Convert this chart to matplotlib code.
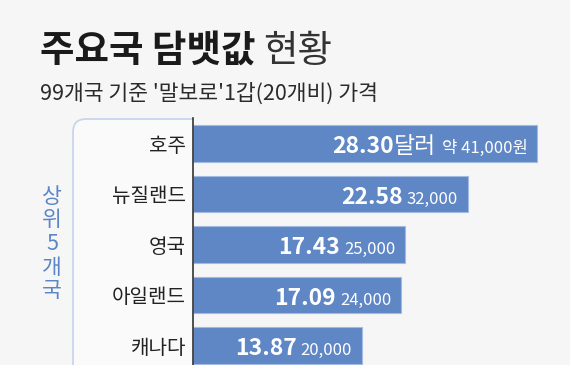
import matplotlib
matplotlib.use("Agg")
import matplotlib.pyplot as plt
from matplotlib.patches import FancyBboxPatch, Rectangle

plt.rcParams['font.family'] = ['Noto Sans CJK KR', 'DejaVu Sans']

# data
countries = ["호주", "뉴질랜드", "영국", "아일랜드", "캐나다"]
usd = [28.30, 22.58, 17.43, 17.09, 13.87]
krw = [41000, 32000, 25000, 24000, 20000]

title_bold = "주요국 담뱃값"
title_light = "현황"
subtitle = "99개국 기준 '말보로'1갑(20개비) 가격"
side_label = "상위5개국"

bg = "#f6f6f6"
bar_color = "#5f87c5"
blue_text = "#5a86c8"

W, H = 580, 365
fig = plt.figure(figsize=(W / 100, H / 100), dpi=100, facecolor=bg)

# white strip on the right edge
fig.patches.append(Rectangle((570 / W, 0), 10 / W, 1, transform=fig.transFigure,
                             facecolor="white", edgecolor="none", zorder=0))

# left overlay in pixel units for the rounded box
ov = fig.add_axes([0, 0, 193 / W, 1])
ov.set_xlim(0, 193)
ov.set_ylim(H, 0)
ov.axis("off")
ov.patch.set_alpha(0)
box = FancyBboxPatch((73, 119), 160, 320, boxstyle="round,pad=0,rounding_size=13",
                     facecolor="#fafafa", edgecolor="#c6d6ee", linewidth=1.3)
ov.add_patch(box)
ov.text(52, 244, "\n".join(side_label), ha="center", va="center", fontsize=15.5,
        color=blue_text, linespacing=1.1)

# main bar axes
ax = fig.add_axes([193 / W, 0, 377 / W, (H - 118) / H])
ax.patch.set_alpha(0)
y = list(range(len(countries)))
ax.barh(y, usd, height=0.73, color=bar_color, edgecolor="#a3bbe0", linewidth=0.8)
ax.set_xlim(0, 377 / 12.17)
ax.set_ylim(4.386, -0.505)
for s in ["top", "right", "bottom"]:
    ax.spines[s].set_visible(False)
ax.spines["left"].set_color("#333333")
ax.spines["left"].set_linewidth(1.2)
ax.set_xticks([])
ax.set_yticks(y)
ax.set_yticklabels(countries, fontsize=14.5, color="#222222")
ax.tick_params(axis="y", length=0, pad=5)

# value labels, chained right-to-left from the bar end
for i, (d, w) in enumerate(zip(usd, krw)):
    base = i + 0.19
    if i == 0:
        small = ax.annotate("약 {:,}원".format(w), xy=(d, base), xytext=(-7, 0),
                            textcoords="offset points", ha="right", va="baseline",
                            fontsize=12, color="white")
        unit = ax.annotate("달러", xy=(0, base), xycoords=(small, "data"),
                           xytext=(-4, 0), textcoords="offset points", ha="right",
                           va="baseline", fontsize=16.5, color="white", fontweight="medium")
        prev, gap = unit, 0
    else:
        small = ax.annotate("{:,}".format(w), xy=(d, base), xytext=(-7, 0),
                            textcoords="offset points", ha="right", va="baseline",
                            fontsize=12, color="white")
        prev, gap = small, -3
    ax.annotate("{:.2f}".format(d), xy=(0, base), xycoords=(prev, "data"),
                xytext=(gap, 0), textcoords="offset points", ha="right",
                va="baseline", fontsize=16.5, color="white", fontweight="bold")

# titles
t1 = fig.text(40 / W, 1 - 62 / H, title_bold, fontsize=27, fontweight="bold",
              color="#1a1a1a", ha="left", va="baseline")
fig.canvas.draw()
tb = t1.get_window_extent()
fig.text((tb.x1 + 8) / W, 1 - 62 / H, title_light, fontsize=27, fontweight="light",
         color="#333333", ha="left", va="baseline")
fig.text(40 / W, 1 - 100 / H, subtitle, fontsize=15.5, color="#2a2a2a",
         ha="left", va="baseline")

fig.savefig("out.png", dpi=100, facecolor=bg)
